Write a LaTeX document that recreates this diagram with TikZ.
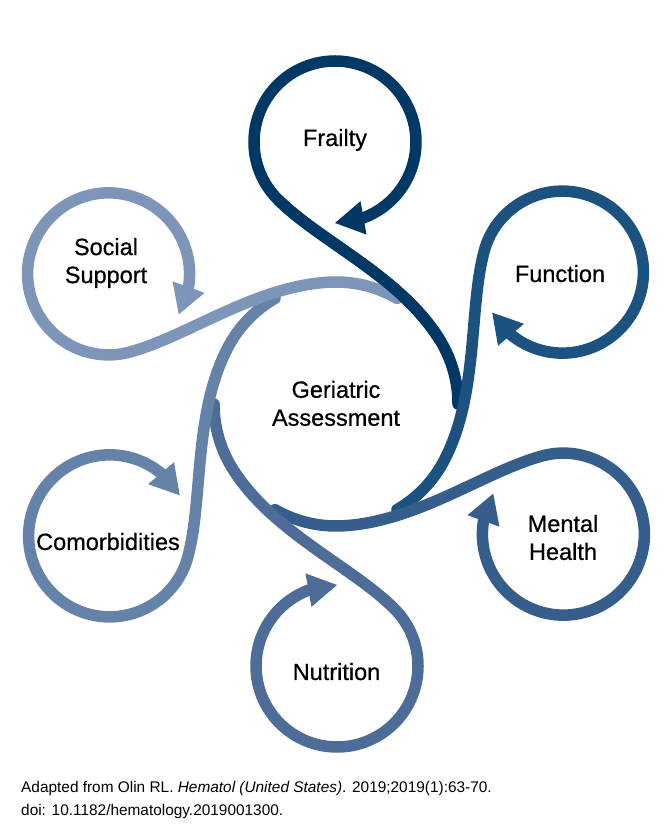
\documentclass[tikz,border=0pt]{standalone}
\usepackage{fontspec}
\setmainfont{Liberation Sans}
\newfontfamily\lblfont[FakeBold=0.6]{Liberation Sans}
\usetikzlibrary{arrows.meta,bending}
\definecolor{cFrailty}{RGB}{0,56,101}
\definecolor{cFunction}{RGB}{27,82,128}
\definecolor{cMental}{RGB}{53,94,140}
\definecolor{cNutrition}{RGB}{77,109,152}
\definecolor{cComorb}{RGB}{101,130,168}
\definecolor{cSocial}{RGB}{125,149,184}
\newcommand\mypetal[2]{%
  \begin{scope}[shift={(336,436)},rotate=#1]
    \draw[petal,#2] (122,0) arc[start angle=0,end angle=32,radius=122]
      .. controls (63.7,128.2) and (-15.9,162.3) .. (-58.28,204.72)
      arc[start angle=225,end angle=-90,radius=81];
  \end{scope}}
\begin{document}
\begin{tikzpicture}[x=1pt,y=1pt,
  petal/.style={line width=11.5pt,line cap=round,
    -{Triangle[length=29pt,width=34pt,line width=0pt,flex]}},
  lbl/.style={font=\lblfont\fontsize{23.5}{28}\selectfont,inner sep=0pt,align=center,text=black},
  capt/.style={font=\fontsize{15.4}{23}\selectfont,inner sep=0pt,align=left,anchor=north west,text=black}]
\useasboundingbox[fill=white] (0,0) rectangle (666,840);
\mypetal{0}{cFrailty}
\mypetal{300}{cFunction}
\mypetal{240}{cMental}
\mypetal{180}{cNutrition}
\mypetal{120}{cComorb}
\mypetal{60}{cSocial}
% redraw the Frailty connecting curve above the Social Support end
\begin{scope}[shift={(336,436)}]
  \draw[line width=11.5pt,cFrailty] (103.46,64.65)
    .. controls (63.7,128.2) and (-15.9,162.3) .. (-58.28,204.72);
\end{scope}
\node[lbl,anchor=base] (frailty) at (335,694) {Frailty};
\node[lbl,anchor=base] (function) at (560,558) {Function};
\node[lbl] (mental) at (563,302.5) {Mental\\Health};
\node[lbl,anchor=base] (nutrition) at (336.5,160) {Nutrition};
\node[lbl,anchor=base] (comorb) at (108,290) {Comorbidities};
\node[lbl] (social) at (106,577) {Social\\Support};
\node[lbl] (ga) at (336,436.6) {Geriatric\\Assessment};
\node[capt] (caption) at (21,59) {Adapted from Olin RL. \textit{Hematol (United States)}. 2019;2019(1):63-70.\\doi: 10.1182/hematology.2019001300.};
\end{tikzpicture}
\end{document}
